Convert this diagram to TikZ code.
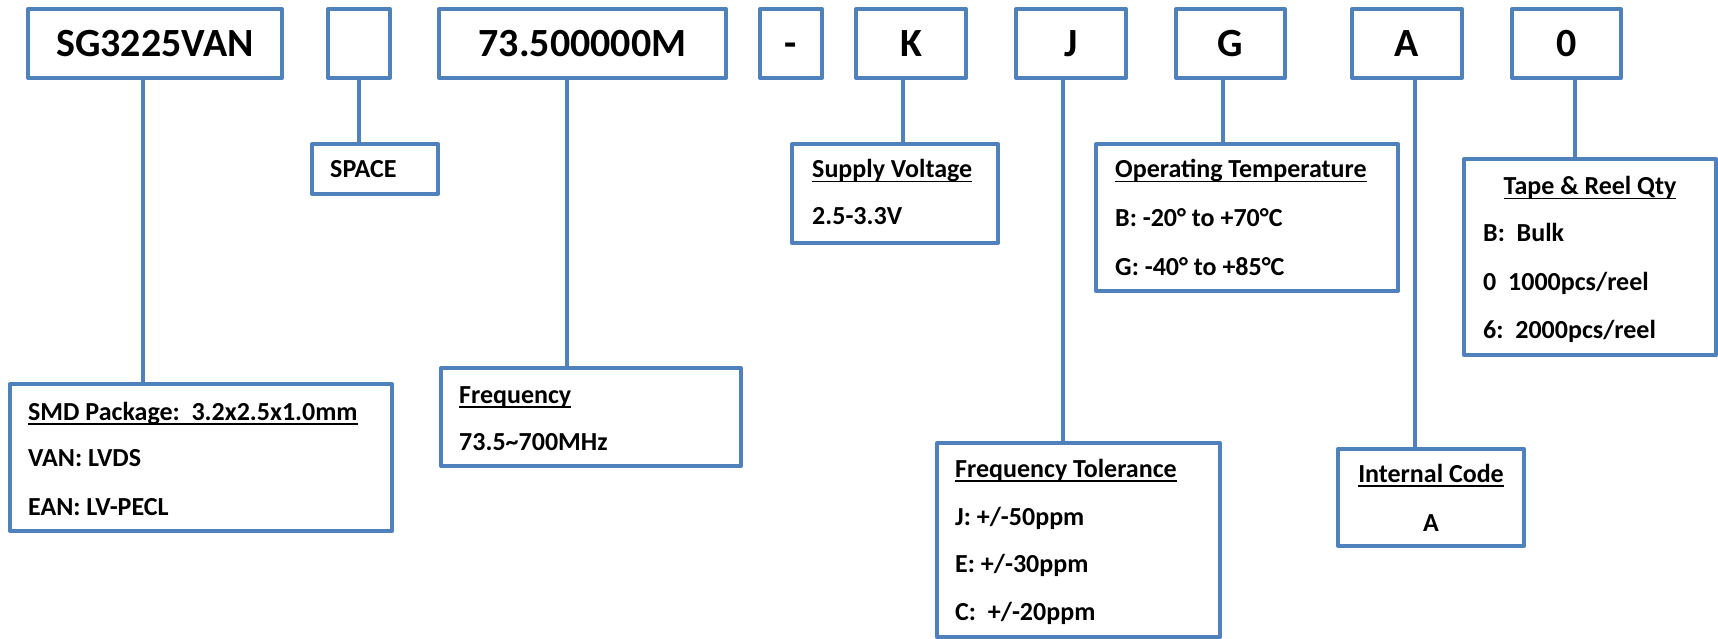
\documentclass[tikz,border=0pt]{standalone}
\usepackage{fontspec}
\setmainfont{Carlito}
\definecolor{bl}{HTML}{4F81BD}
\newcommand\ulx[1]{\setbox0\hbox{#1}\rlap{\rule[-4.5pt]{\wd0}{1.5pt}}\box0}
\begin{document}
\begin{tikzpicture}[x=1pt,y=-1pt,
  box/.style={draw=bl, line width=4pt, line join=round, rectangle, inner sep=0pt, outer sep=0pt},
  big/.style={font=\fontsize{40}{48}\selectfont\bfseries, text height=26pt, text depth=0pt},
  txt/.style={anchor=base west, inner sep=0pt, font=\fontsize{26}{31}\selectfont\bfseries},
  ctxt/.style={anchor=base, inner sep=0pt, font=\fontsize{26}{31}\selectfont\bfseries},
  conn/.style={draw=bl, line width=4pt}]
\useasboundingbox (0,0) rectangle (1718,639);
% top row
\node[box, big, minimum width=254pt, minimum height=69pt] (sg) at (155,43.5) {SG3225VAN};
\node[box, big, minimum width=62pt, minimum height=69pt] (sp) at (359,43.5) {};
\node[box, big, minimum width=287pt, minimum height=69pt] (fr) at (582.5,43.5) {73.500000M};
\node[box, big, minimum width=62pt, minimum height=69pt] (da) at (791,43.5) {-};
\node[box, big, minimum width=110pt, minimum height=69pt] (kk) at (911,43.5) {K};
\node[box, big, minimum width=110pt, minimum height=69pt] (jj) at (1071,43.5) {J};
\node[box, big, minimum width=109pt, minimum height=69pt] (gg) at (1230.5,43.5) {G};
\node[box, big, minimum width=110pt, minimum height=69pt] (aa) at (1407,43.5) {A};
\node[box, big, minimum width=109pt, minimum height=69pt] (zz) at (1566.5,43.5) {0};
% lower boxes
\node[box, anchor=north west, minimum width=126pt, minimum height=50pt] (spl) at (312,144) {};
\node[box, anchor=north west, minimum width=206pt, minimum height=99pt] (sv) at (792,144) {};
\node[box, anchor=north west, minimum width=302pt, minimum height=147pt] (ot) at (1096,144) {};
\node[box, anchor=north west, minimum width=252pt, minimum height=196pt] (tr) at (1464,159) {};
\node[box, anchor=north west, minimum width=382pt, minimum height=147pt] (smd) at (10,384) {};
\node[box, anchor=north west, minimum width=300pt, minimum height=98pt] (fq) at (441,368) {};
\node[box, anchor=north west, minimum width=283pt, minimum height=194pt] (ft) at (937,443) {};
\node[box, anchor=north west, minimum width=186pt, minimum height=97pt] (ic) at (1338,449) {};
% connector columns
\coordinate (c1) at (143,0);
\coordinate (c2) at (359,0);
\coordinate (c3) at (567,0);
\coordinate (c4) at (903,0);
\coordinate (c5) at (1063,0);
\coordinate (c6) at (1223,0);
\coordinate (c7) at (1415,0);
\coordinate (c8) at (1575,0);
\draw[conn] (sg.south -| c1) -- (smd.north -| c1);
\draw[conn] (sp.south -| c2) -- (spl.north -| c2);
\draw[conn] (fr.south -| c3) -- (fq.north -| c3);
\draw[conn] (kk.south -| c4) -- (sv.north -| c4);
\draw[conn] (jj.south -| c5) -- (ft.north -| c5);
\draw[conn] (gg.south -| c6) -- (ot.north -| c6);
\draw[conn] (aa.south -| c7) -- (ic.north -| c7);
\draw[conn] (zz.south -| c8) -- (tr.north -| c8);
% texts
\node[txt] (t1) at (330,178) {SPACE};
\node[txt] (t2) at (812,178) {\ulx{Supply Voltage}};
\node[txt] (t3) at (812,225) {2.5-3.3V};
\node[txt] (t4) at (1115,178) {\ulx{Operating Temperature}};
\node[txt] (t5) at (1115,226) {B: -20° to +70°C};
\node[txt] (t6) at (1115,275) {G: -40° to +85°C};
\node[ctxt] (t7) at (1590,195) {\ulx{Tape \& Reel Qty}};
\node[txt] (t8) at (1483,241) {B:\ \ Bulk};
\node[txt] (t9) at (1483,290) {0\ \ 1000pcs/reel};
\node[txt] (t10) at (1483,338) {6:\ \ 2000pcs/reel};
\node[txt] (t11) at (28,420) {\ulx{SMD Package:\ \ 3.2x2.5x1.0mm}};
\node[txt] (t12) at (28,466) {VAN: LVDS};
\node[txt] (t13) at (28,515) {EAN: LV-PECL};
\node[txt] (t14) at (459,403) {\ulx{Frequency}};
\node[txt] (t15) at (459,450) {73.5\textasciitilde700MHz};
\node[txt] (t16) at (955,477) {\ulx{Frequency Tolerance}};
\node[txt] (t17) at (955,525) {J: +/-50ppm};
\node[txt] (t18) at (955,572) {E: +/-30ppm};
\node[txt] (t19) at (955,620) {C:\ \ +/-20ppm};
\node[ctxt] (t20) at (1431,482) {\ulx{Internal Code}};
\node[ctxt] (t21) at (1431,531) {A};
\end{tikzpicture}
\end{document}
